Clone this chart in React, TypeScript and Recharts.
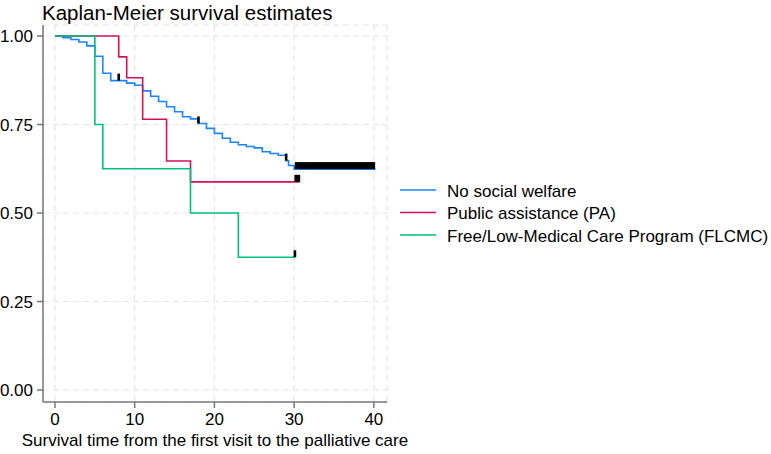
import React from 'react';
import {
  ComposedChart,
  Line,
  Scatter,
  XAxis,
  YAxis,
  CartesianGrid,
  Legend,
  Label,
} from 'recharts';

const FONT = '"Liberation Sans", Arial, Helvetica, sans-serif';

// Kaplan-Meier step estimates (time in months)
const noWelfareTime = [0, 1, 2, 3, 4, 5, 6, 7, 9, 10, 11, 12, 13, 14, 15, 16, 17, 18, 19, 20, 21, 22, 23, 24, 25, 26, 27, 28, 29, 29.3, 30];
const noWelfareSurv = [1, 0.995, 0.99, 0.983, 0.972, 0.943, 0.895, 0.874, 0.867, 0.861, 0.845, 0.83, 0.815, 0.8, 0.786, 0.772, 0.766, 0.753, 0.739, 0.725, 0.711, 0.7, 0.693, 0.688, 0.684, 0.673, 0.668, 0.663, 0.648, 0.634, 0.624];
const noWelfareEnd = 40.2;
const noWelfareCensored = [
  8, 18, 29,
  30.25, 30.5, 30.75, 31, 31.25, 31.5, 31.75, 32, 32.25, 32.5, 32.75, 33, 33.25, 33.5, 33.75, 34,
  34.25, 34.5, 34.75, 35, 35.25, 35.5, 35.75, 36, 36.25, 36.5, 36.75, 37, 37.25, 37.5, 37.75, 38,
  38.25, 38.5, 38.75, 39, 39.25, 39.5, 39.75, 40,
];

const paTime = [0, 8, 9, 11, 14, 17];
const paSurv = [1, 0.941, 0.882, 0.765, 0.647, 0.588];
const paEnd = 30.7;
const paCensored = [30.2, 30.4, 30.6];

const flcmcTime = [0, 5, 6, 17, 23];
const flcmcSurv = [1, 0.75, 0.625, 0.5, 0.375];
const flcmcEnd = 30.1;
const flcmcCensored = [30.1];

const xTicks = [0, 10, 20, 30, 40];
const yTicks = [0, 0.25, 0.5, 0.75, 1];

const groups = [
  { name: 'No social welfare', color: '#1A85FF', time: noWelfareTime, surv: noWelfareSurv, end: noWelfareEnd, censored: noWelfareCensored },
  { name: 'Public assistance (PA)', color: '#D41159', time: paTime, surv: paSurv, end: paEnd, censored: paCensored },
  { name: 'Free/Low-Medical Care Program (FLCMC)', color: '#00BF7F', time: flcmcTime, surv: flcmcSurv, end: flcmcEnd, censored: flcmcCensored },
];

function survivalAt(time: number[], surv: number[], t: number) {
  let s = surv[0];
  time.forEach((ti, i) => {
    if (ti <= t) s = surv[i];
  });
  return s;
}

function stepData(time: number[], surv: number[], end: number) {
  const pts = time.map((t, i) => ({ t, s: surv[i] }));
  pts.push({ t: end, s: surv[surv.length - 1] });
  return pts;
}

// censoring mark: short black tick sitting on the curve
const CensorTick = (props: any) => {
  const { cx, cy } = props;
  if (cx == null || cy == null) return null;
  return <rect x={cx - 1.3} y={cy - 7} width={2.6} height={7} fill="#000" />;
};

const renderLegend = () => (
  <svg width={371} height={70} style={{ overflow: 'visible' }}>
    {groups.map((g, i) => (
      <g key={g.name} transform={`translate(0, ${12 + i * 22.5})`}>
        <line x1={0} x2={36} y1={0} y2={0} stroke={g.color} strokeWidth={1.6} />
        <text x={47} y={6.5} fontSize={17} fontFamily={FONT} fill="#000">
          {g.name}
        </text>
      </g>
    ))}
  </svg>
);

export default function App() {
  return (
    <div style={{ position: 'absolute', left: 0, top: 0, width: 771, height: 454, background: '#fff' }}>
      <svg width={771} height={30} style={{ position: 'absolute', left: 0, top: 0 }}>
        <text x={42} y={19.5} fontSize={20.5} fontFamily={FONT} fill="#000">
          Kaplan-Meier survival estimates
        </text>
      </svg>
      <ComposedChart
        width={771}
        height={454}
        margin={{ top: 25, right: 384, bottom: 0, left: 0 }}
        style={{ fontFamily: FONT }}
      >
        <CartesianGrid stroke="#e6e6e6" strokeDasharray="6 4" strokeWidth={1.2} />
        <XAxis
          dataKey="t"
          type="number"
          domain={[-1.5, 41.65]}
          ticks={xTicks}
          allowDataOverflow
          height={52}
          tickSize={6}
          tickMargin={5}
          stroke="#777"
          strokeWidth={1.5}
          tick={{ fill: '#000', fontSize: 17 }}
        >
          <Label
            value="Survival time from the first visit to the palliative care"
            position="insideBottom"
            offset={8}
            fill="#000"
            fontSize={17}
          />
        </XAxis>
        <YAxis
          dataKey="s"
          type="number"
          domain={[-0.0339, 1.0311]}
          ticks={yTicks}
          allowDataOverflow
          width={43}
          tickSize={6}
          tickMargin={4}
          stroke="#777"
          strokeWidth={1.5}
          tickFormatter={(v: number) => v.toFixed(2)}
          tick={{ fill: '#000', fontSize: 17 }}
        />
        {groups.map((g) => (
          <Line
            key={g.name}
            data={stepData(g.time, g.surv, g.end)}
            dataKey="s"
            type="stepAfter"
            stroke={g.color}
            strokeWidth={1.6}
            dot={false}
            name={g.name}
            isAnimationActive={false}
          />
        ))}
        {groups.map((g) => (
          <Scatter
            key={`${g.name}-censored`}
            data={g.censored.map((t) => ({ t, s: survivalAt(g.time, g.surv, t) }))}
            dataKey="s"
            shape={CensorTick}
            legendType="none"
            isAnimationActive={false}
          />
        ))}
        <Legend
          layout="vertical"
          align="center"
          verticalAlign="middle"
          wrapperStyle={{ left: 400, top: 178, width: 371, height: 70 }}
          content={renderLegend}
        />
      </ComposedChart>
    </div>
  );
}
